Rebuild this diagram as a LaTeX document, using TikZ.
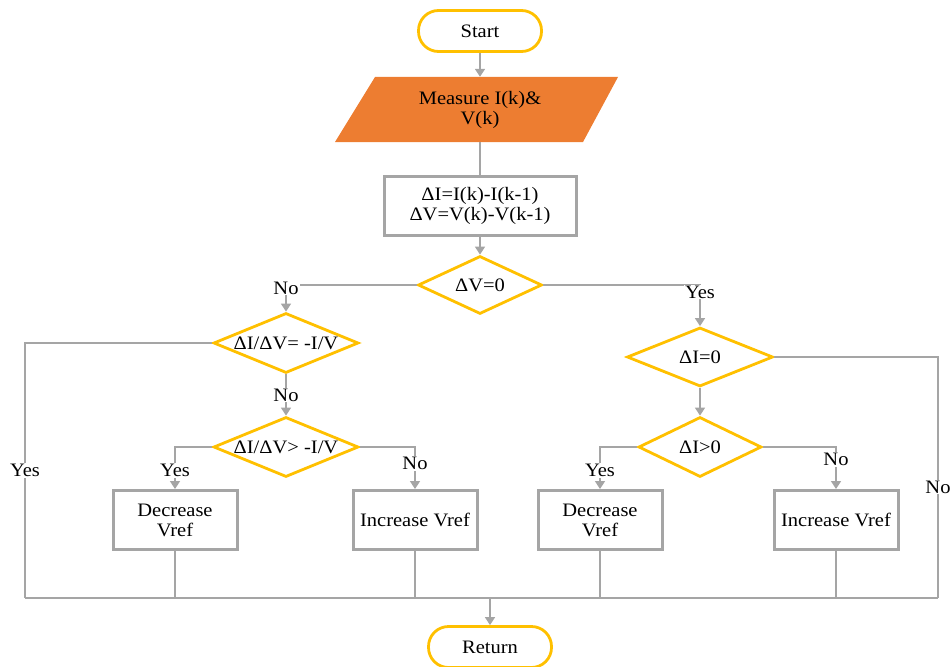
\documentclass[tikz,border=0pt]{standalone}
\usepackage{fontspec}
\setmainfont{Liberation Serif}[FakeStretch=1.08]
\usetikzlibrary{shapes.geometric,arrows.meta}
\definecolor{gold}{HTML}{FFC000}
\definecolor{lgray}{HTML}{A5A5A5}
\definecolor{orng}{HTML}{ED7D31}
\begin{document}
\begin{tikzpicture}[x=1pt,y=-1pt, font=\fontsize{19}{20}\selectfont,
 term/.style={draw=gold, line width=2.8pt, rounded corners=20pt, minimum width=123pt, minimum height=41pt, inner sep=0pt},
 procbox/.style={draw=lgray, line width=3pt, fill=white, minimum width=124pt, minimum height=59pt, inner sep=0pt, align=center},
 dec/.style={diamond, draw=gold, line width=2.8pt, inner sep=0pt, aspect=1},
 conn/.style={draw=lgray, line width=1.6pt},
 arr/.style={conn, -{Triangle[width=10pt,length=8pt]}},
 lbl/.style={fill=white, inner sep=1pt}]
\useasboundingbox (0,0) rectangle (952,666);
\node[term] (start) at (480,31) {Start};
\fill[orng] (375,77) -- (618,77) -- (583,142) -- (335,142) -- cycle;
\node[align=center, minimum height=65pt, inner sep=0pt] (meas) at (480,109.5) {Measure I(k)\&\\V(k)};
\node[procbox, minimum width=192pt] (diff) at (480,206) {ΔI=I(k)-I(k-1)\\ΔV=V(k)-V(k-1)};
\node[dec, minimum width=124pt, minimum height=58pt] (dv) at (480,285) {\makebox[0pt]{ΔV=0}};
\node[dec, minimum width=145pt, minimum height=60pt] (dd1) at (286,343) {\makebox[0pt]{ΔI/ΔV= -I/V}};
\node[dec, minimum width=145pt, minimum height=60pt] (dd2) at (286,447) {\makebox[0pt]{ΔI/ΔV> -I/V}};
\node[dec, minimum width=146pt, minimum height=59pt] (di0) at (700,357) {\makebox[0pt]{ΔI=0}};
\node[dec, minimum width=123pt, minimum height=60pt] (di1) at (700,447) {\makebox[0pt]{ΔI>0}};
\node[procbox] (decL) at (175,520) {Decrease\\Vref};
\node[procbox] (incL) at (415,520) {Increase Vref};
\node[procbox] (decR) at (600,520) {Decrease\\Vref};
\node[procbox] (incR) at (836,520) {Increase Vref};
\node[term] (ret) at (490,647) {Return};
\coordinate (bl) at (25,598);
\coordinate (br) at (938,598);
\draw[arr] (start.south) -- (meas.north);
\draw[conn] (meas.south) -- (diff.north);
\draw[arr] (diff.south) -- (dv.north);
\draw[arr] (dv.west) -| node[lbl, pos=0.5, yshift=-3pt] {No} (dd1.north);
\draw[arr] (dv.east) -| node[lbl, pos=0.5, yshift=-7pt] {Yes} (di0.north);
\draw[arr] (dd1.south) -- node[lbl] {No} (dd2.north);
\draw[conn] (dd1.west) -| node[lbl, pos=0.75] {Yes} (bl);
\draw[arr] (dd2.west) -| node[lbl, pos=0.78] {Yes} (decL.north);
\draw[arr] (dd2.east) -| node[lbl, pos=0.7] {No} (incL.north);
\draw[arr] (di0.south) -- (di1.north);
\draw[conn] (di0.east) -| node[lbl, pos=0.77] {No} (br);
\draw[arr] (di1.west) -| node[lbl, pos=0.78] {Yes} (decR.north);
\draw[arr] (di1.east) -| node[lbl, pos=0.65] {No} (incR.north);
\draw[conn] (bl) -- (br);
\draw[conn] (decL.south) -- (decL.south |- bl);
\draw[conn] (incL.south) -- (incL.south |- bl);
\draw[conn] (decR.south) -- (decR.south |- bl);
\draw[conn] (incR.south) -- (incR.south |- bl);
\draw[arr] (ret.north |- bl) -- (ret.north);
\end{tikzpicture}
\end{document}
